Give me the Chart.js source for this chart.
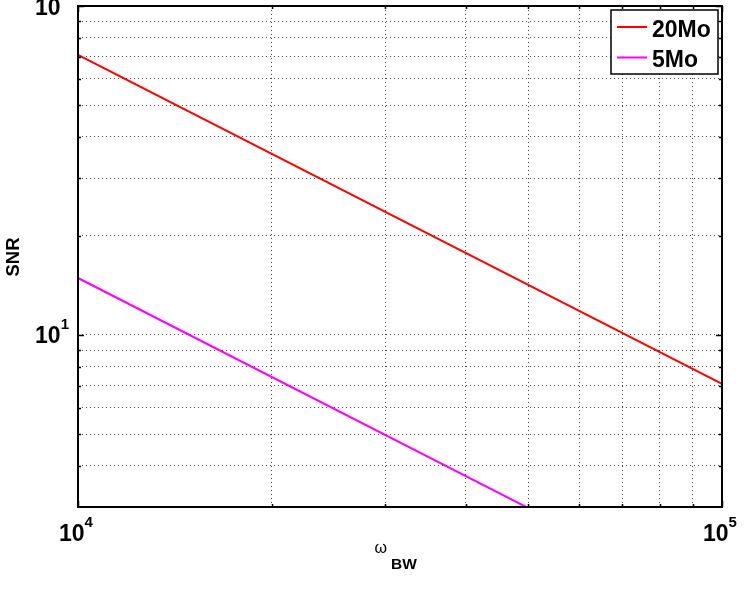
<!DOCTYPE html>
<html>
<head>
<meta charset="utf-8">
<style>
html,body{margin:0;padding:0;background:#fff;}
#wrap{width:747px;height:598px;position:relative;}
</style>
<script src="https://cdn.jsdelivr.net/npm/chart.js@4/dist/chart.umd.min.js"></script>
</head>
<body>
<div id="wrap"><canvas id="c" width="747" height="598"></canvas></div>
<script>
// ---- data ----
const omegaBW = [1e4, 1e5];
const snr20Mo = [71, 7.1];
const snr5Mo = [14.9, 1.49];
const seriesLabels = ['20Mo', '5Mo'];
const xMajorTicks = [1e4, 1e5];
const xTickExponents = ['4', '5'];
const yMajorTicks = [10, 100];
const yTickExponents = ['1', '2'];
const xMinorTicks = [2e4, 3e4, 4e4, 5e4, 6e4, 7e4, 8e4, 9e4];
const yMinorTicks = [4, 5, 6, 7, 8, 9, 20, 30, 40, 50, 60, 70, 80, 90];

const FONT = '"Liberation Sans", Arial, Helvetica, sans-serif';

function toPts(xs, ys){ return xs.map((x,i)=>({x:x, y:ys[i]})); }

const decor = {
  id: 'decor',
  afterDraw(chart){
    const ctx = chart.ctx, a = chart.chartArea;
    const xs = chart.scales.x, ys = chart.scales.y;
    ctx.save();
    // border box
    ctx.strokeStyle = '#000';
    ctx.lineWidth = 2;
    ctx.strokeRect(a.left, a.top, a.right - a.left, a.bottom - a.top);
    // tick marks (inward)
    ctx.lineWidth = 1.5;
    ctx.beginPath();
    const tickX = (v, len) => {
      const p = Math.round(xs.getPixelForValue(v)) + 0.5;
      ctx.moveTo(p, a.bottom); ctx.lineTo(p, a.bottom - len);
      ctx.moveTo(p, a.top); ctx.lineTo(p, a.top + len);
    };
    const tickY = (v, len) => {
      const p = Math.round(ys.getPixelForValue(v)) + 0.5;
      ctx.moveTo(a.left, p); ctx.lineTo(a.left + len, p);
      ctx.moveTo(a.right, p); ctx.lineTo(a.right - len, p);
    };
    xMinorTicks.forEach(v => tickX(v, 3));
    yMinorTicks.forEach(v => tickY(v, 3));
    xMajorTicks.forEach(v => tickX(v, 6));
    yMajorTicks.forEach(v => tickY(v, 6));
    ctx.stroke();

    // tick labels
    ctx.fillStyle = '#000';
    ctx.textBaseline = 'alphabetic';
    const bigF = 'bold 23px ' + FONT, supF = 'bold 15px ' + FONT;
    yMajorTicks.forEach((v, i) => {
      const p = ys.getPixelForValue(v);
      ctx.font = supF;
      const ws = ctx.measureText(yTickExponents[i]).width;
      const rightX = a.left - 9;
      ctx.textAlign = 'left';
      ctx.fillText(yTickExponents[i], rightX - ws, p - 6);
      ctx.font = bigF;
      ctx.textAlign = 'right';
      ctx.fillText('10', rightX - ws, p + 8.5);
    });
    xMajorTicks.forEach((v, i) => {
      const p = xs.getPixelForValue(v);
      ctx.font = bigF;
      const wb = ctx.measureText('10').width;
      ctx.font = supF;
      const ws = ctx.measureText(xTickExponents[i]).width;
      const left = p - 2 - (wb + ws) / 2;
      ctx.textAlign = 'left';
      ctx.font = bigF;
      ctx.fillText('10', left, a.bottom + 34);
      ctx.font = supF;
      ctx.fillText(xTickExponents[i], left + wb, a.bottom + 20);
    });

    // axis titles
    ctx.save();
    ctx.translate(14, 257);
    ctx.rotate(-Math.PI / 2);
    ctx.textAlign = 'center';
    ctx.textBaseline = 'middle';
    ctx.font = 'bold 18.5px ' + FONT;
    ctx.fillText('SNR', 0, 0);
    ctx.restore();

    ctx.textAlign = 'left';
    ctx.textBaseline = 'alphabetic';
    ctx.font = '16px ' + FONT;
    ctx.fillText('ω', 374.5, 553);
    ctx.font = 'bold 15.5px ' + FONT;
    ctx.fillText('BW', 391, 568.5);

    // legend
    const lx = 611, ly = 10, lw = 107, lh = 64;
    ctx.fillStyle = '#fff';
    ctx.fillRect(lx, ly, lw, lh);
    ctx.strokeStyle = '#000';
    ctx.lineWidth = 1.5;
    ctx.strokeRect(lx, ly, lw, lh);
    chart.data.datasets.forEach((ds, i) => {
      const yy = ly + 17 + i * 30.5;
      ctx.strokeStyle = ds.borderColor;
      ctx.lineWidth = 2;
      ctx.beginPath();
      ctx.moveTo(lx + 6, yy); ctx.lineTo(lx + 36, yy);
      ctx.stroke();
      ctx.fillStyle = '#000';
      ctx.font = 'bold 23px ' + FONT;
      ctx.textAlign = 'left';
      ctx.fillText(ds.label, lx + 41, yy + 9.5);
    });
    ctx.restore();
  }
};

new Chart(document.getElementById('c'), {
  type: 'line',
  data: {
    datasets: [
      { label: seriesLabels[0], data: toPts(omegaBW, snr20Mo), borderColor: '#ff0000', borderWidth: 2, pointRadius: 0, tension: 0, fill: false },
      { label: seriesLabels[1], data: toPts(omegaBW, snr5Mo), borderColor: '#ff00ff', borderWidth: 2, pointRadius: 0, tension: 0, fill: false }
    ]
  },
  options: {
    responsive: false,
    animation: false,
    events: [],
    layout: { padding: { top: 6, right: 25, left: 0, bottom: 0 } },
    plugins: { legend: { display: false }, tooltip: { enabled: false } },
    scales: {
      x: {
        type: 'logarithmic', min: 1e4, max: 1e5,
        afterBuildTicks: s => { s.ticks = xMinorTicks.map(v => ({ value: v })); },
        afterFit: s => { s.height = 91; },
        ticks: { display: false },
        grid: { drawTicks: false, color: 'rgba(0,0,0,0.75)', lineWidth: 1 },
        border: { display: false, dash: [1, 3] }
      },
      y: {
        type: 'logarithmic', min: 3, max: 100,
        afterBuildTicks: s => { s.ticks = yMinorTicks.concat([10]).map(v => ({ value: v })); },
        afterFit: s => { s.width = 78; },
        ticks: { display: false },
        grid: { drawTicks: false, color: 'rgba(0,0,0,0.75)', lineWidth: 1 },
        border: { display: false, dash: [1, 3] }
      }
    }
  },
  plugins: [decor]
});
</script>
</body>
</html>
